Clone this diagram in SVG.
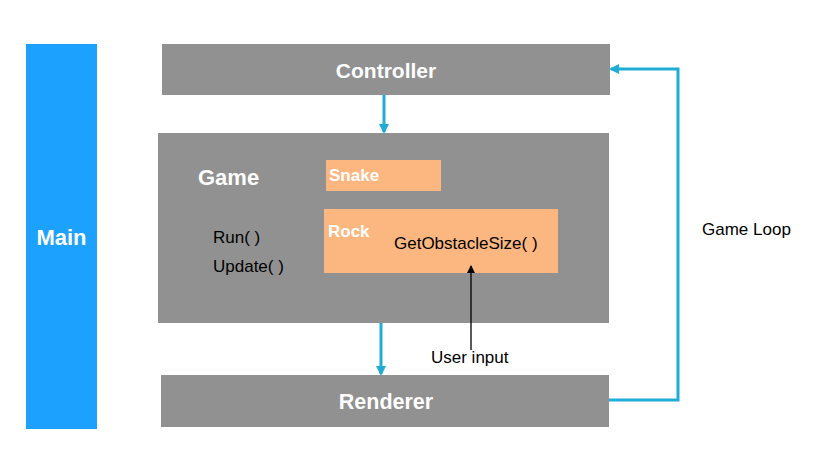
<svg xmlns="http://www.w3.org/2000/svg" width="823" height="463" viewBox="0 0 823 463">
<style>
.box{fill:#919191}
.obj{fill:#fbb77f}
.wb{font-family:"Liberation Sans",Arial,sans-serif;font-weight:bold;fill:#fff}
.t{font-family:"Liberation Sans",Arial,sans-serif;fill:#000;font-size:17px}
.c{stroke:#1fadd6;stroke-width:3;fill:none}
</style>
<defs>
<marker id="ab" markerWidth="10" markerHeight="10" refX="8" refY="5" orient="auto" markerUnits="userSpaceOnUse"><path d="M0,0 L10,5 L0,10 z" fill="#1fadd6"/></marker>
<marker id="ak" markerWidth="8" markerHeight="8" refX="7" refY="4" orient="auto" markerUnits="userSpaceOnUse"><path d="M0,0 L8,4 L0,8 z" fill="#000"/></marker>
</defs>
<rect width="823" height="463" fill="#fff"/>
<g id="main"><rect x="26" y="44" width="71" height="385" fill="#1ca1ff"/><text class="wb" x="61.5" y="245" font-size="22" text-anchor="middle">Main</text></g>
<g id="controller"><rect class="box" x="162" y="44" width="448" height="51"/><text class="wb" x="386" y="78" font-size="21" text-anchor="middle">Controller</text></g>
<g id="game"><rect class="box" x="158" y="133" width="451" height="190"/><text class="wb" x="198" y="185" font-size="22">Game</text>
<text class="t" x="213" y="243">Run( )</text><text class="t" x="213" y="272">Update( )</text></g>
<g id="snake"><rect class="obj" x="326" y="160" width="115" height="31"/><text class="wb" x="329" y="181" font-size="17">Snake</text></g>
<g id="rock"><rect class="obj" x="324" y="209" width="234" height="64"/><text class="wb" x="328" y="237" font-size="17">Rock</text><text class="t" x="394" y="249">GetObstacleSize( )</text></g>
<g id="renderer"><rect class="box" x="161" y="375" width="448" height="52"/><text class="wb" x="386" y="409" font-size="21.5" text-anchor="middle">Renderer</text></g>
<g id="labels"><text class="t" x="431" y="363">User input</text><text class="t" x="702" y="235">Game Loop</text></g>
<g id="connectors">
<line class="c" x1="384" y1="95" x2="384" y2="132" marker-end="url(#ab)"/>
<line class="c" x1="381" y1="323" x2="381" y2="374" marker-end="url(#ab)"/>
<polyline class="c" points="609,400 678,400 678,69 611,69" marker-end="url(#ab)"/>
<line x1="471" y1="350" x2="471" y2="266" stroke="#000" stroke-width="1.3" marker-end="url(#ak)"/>
</g>
</svg>
